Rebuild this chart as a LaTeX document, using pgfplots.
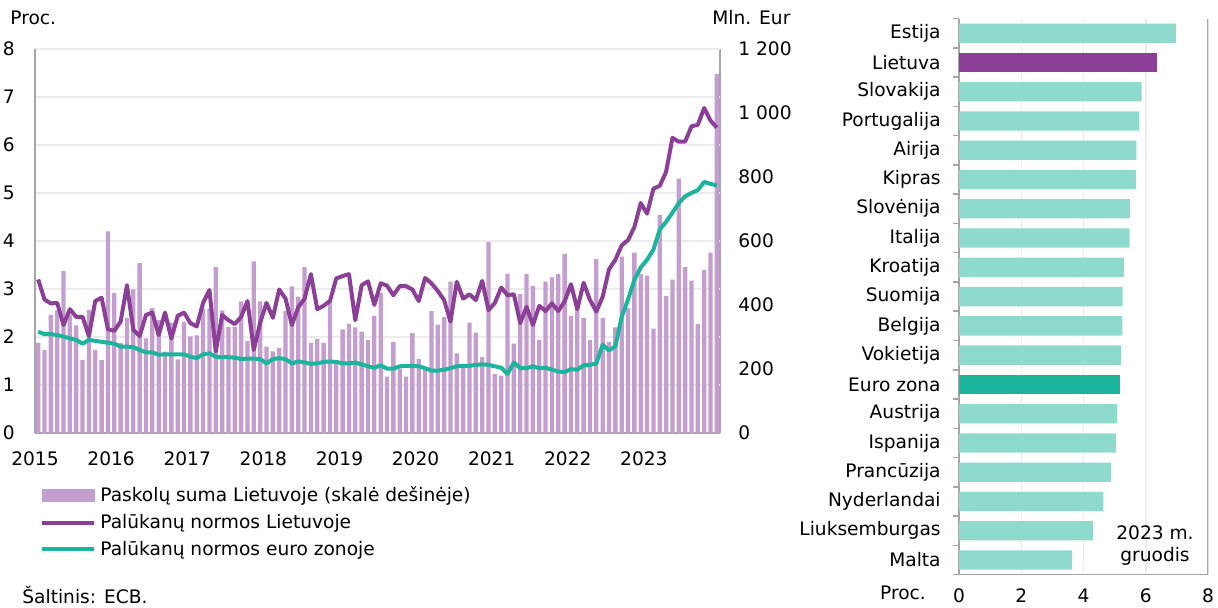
\documentclass[border=0pt]{standalone}
\usepackage{fontspec}
\setmainfont{DejaVu Sans}
\usepackage{pgfplots}
\usepackage{pgfplotstable}
\pgfplotsset{compat=1.18}
\definecolor{barpurple}{RGB}{196,158,206}
\definecolor{ltpurple}{RGB}{139,63,150}
\definecolor{ezteal}{RGB}{27,180,156}
\definecolor{lightteal}{RGB}{142,219,206}
\definecolor{axisgray}{RGB}{166,166,166}
\definecolor{gridgray}{RGB}{236,236,236}
\pgfplotsset{barlegend/.style={legend image code/.code={\fill[barpurple] (0pt,-3pt) rectangle (26pt,3pt);}}}

\pgfplotstableread{
i bars lt ez
0 282 3.20 2.11
1 260 2.78 2.06
2 369 2.70 2.06
3 383 2.71 2.04
4 507 2.25 2.01
5 368 2.58 1.97
6 336 2.42 1.94
7 228 2.42 1.86
8 384 2.02 1.94
9 260 2.75 1.92
10 228 2.82 1.90
11 630 2.16 1.88
12 438 2.13 1.86
13 282 2.32 1.80
14 360 3.08 1.80
15 449 2.15 1.79
16 531 2.02 1.73
17 296 2.46 1.68
18 390 2.51 1.68
19 353 2.04 1.63
20 254 2.51 1.64
21 345 1.97 1.64
22 230 2.44 1.64
23 347 2.51 1.64
24 302 2.29 1.59
25 305 2.22 1.56
26 389 2.71 1.64
27 389 2.98 1.66
28 519 1.70 1.59
29 383 2.46 1.58
30 332 2.35 1.58
31 332 2.27 1.57
32 411 2.42 1.54
33 288 2.75 1.55
34 536 1.73 1.55
35 411 2.30 1.54
36 270 2.71 1.45
37 255 2.40 1.54
38 266 2.99 1.56
39 381 2.80 1.54
40 458 2.25 1.45
41 426 2.62 1.49
42 518 2.80 1.47
43 282 3.31 1.44
44 294 2.58 1.45
45 282 2.65 1.48
46 411 2.75 1.49
47 228 3.22 1.48
48 324 3.27 1.45
49 341 3.31 1.45
50 330 2.35 1.47
51 317 3.08 1.43
52 291 3.16 1.39
53 366 2.67 1.36
54 438 3.12 1.41
55 176 3.07 1.34
56 284 2.87 1.34
57 201 3.06 1.39
58 176 3.06 1.40
59 312 2.99 1.40
60 231 2.75 1.39
61 200 3.23 1.35
62 381 3.12 1.30
63 339 2.96 1.30
64 362 2.77 1.32
65 473 2.32 1.35
66 249 3.15 1.39
67 207 2.80 1.40
68 345 2.89 1.40
69 314 2.77 1.42
70 237 3.17 1.43
71 597 2.56 1.42
72 185 2.71 1.39
73 179 3.03 1.36
74 497 2.87 1.23
75 279 2.89 1.47
76 434 2.29 1.35
77 497 2.63 1.35
78 459 2.25 1.39
79 291 2.65 1.35
80 473 2.54 1.36
81 486 2.70 1.32
82 497 2.54 1.28
83 560 2.74 1.27
84 366 3.10 1.33
85 390 2.58 1.32
86 359 3.13 1.41
87 291 2.77 1.42
88 543 2.53 1.45
89 360 2.84 1.84
90 285 3.41 1.72
91 330 3.61 1.81
92 551 3.91 2.42
93 390 4.02 2.78
94 564 4.29 3.19
95 497 4.79 3.45
96 492 4.57 3.61
97 326 5.09 3.82
98 681 5.15 4.24
99 428 5.44 4.40
100 479 6.15 4.59
101 795 6.07 4.79
102 518 6.07 4.93
103 476 6.39 5.00
104 341 6.42 5.06
105 510 6.77 5.23
106 564 6.51 5.19
107 1122 6.36 5.16
}\datatable

\begin{document}
\fontsize{9.3}{11}\selectfont
\begin{tikzpicture}[font=\fontsize{9.3}{11}\selectfont]
\useasboundingbox (0,0) rectangle (609pt,303.5pt);

% bars, right scale
\begin{axis}[scale only axis, width=342.5pt, height=192pt, at={(17.5pt,87pt)}, anchor=south west,
  xmin=-0.5, xmax=107.5, ymin=0, ymax=1200,
  axis x line*=bottom, axis y line*=right,
  axis line style={draw=axisgray, line width=0.75pt, -},
  xtick={-0.5,11.5,23.5,35.5,47.5,59.5,71.5,83.5,95.5},
  xticklabels={2015,2016,2017,2018,2019,2020,2021,2022,2023},
  ytick={0,200,400,600,800,1000,1200},
  yticklabels={0,200,400,600,800,1 000,1 200},
  major tick length=0pt,
  xticklabel style={inner sep=0pt, anchor=north, yshift=-9pt},
  yticklabel style={inner sep=0pt, anchor=west, xshift=9pt},
  extra y ticks={150,300,450,600,750,900,1050,1200}, extra y tick labels={},
  extra y tick style={grid=major, major grid style={draw=gridgray, line width=0.75pt}},
  ybar, bar width=0.68,
]
\addplot[fill=barpurple, draw=none] table[x=i, y=bars] {\datatable};
\end{axis}

% lines, left scale
\begin{axis}[scale only axis, width=342.5pt, height=192pt, at={(17.5pt,87pt)}, anchor=south west,
  xmin=-0.5, xmax=107.5, ymin=0, ymax=8,
  axis x line=none, axis y line*=left,
  axis line style={draw=axisgray, line width=0.75pt, -},
  ytick={0,1,2,3,4,5,6,7,8}, yticklabels={0,1,2,3,4,5,6,7,8},
  major tick length=0pt,
  yticklabel style={inner sep=0pt, anchor=east, xshift=-10pt},
  legend image code/.code={\draw[#1] (0pt,0pt) -- (26pt,0pt);},
  legend cell align=left,
  legend style={at={(axis description cs:0,0)}, anchor=north west, xshift=2.5pt, yshift=-25pt,
    draw=none, fill=none, inner sep=0pt, row sep=2pt,
    nodes={inner xsep=2pt, inner ysep=1.5pt}},
]
\addlegendimage{barlegend}
\addlegendentry{Paskolų suma Lietuvoje (skalė dešinėje)}
\addplot[ltpurple, line width=2pt, line join=round] table[x=i, y=lt] {\datatable};
\addlegendentry{Palūkanų normos Lietuvoje}
\addplot[ezteal, line width=2pt, line join=round] table[x=i, y=ez] {\datatable};
\addlegendentry{Palūkanų normos euro zonoje}
\end{axis}

% right panel
\begin{axis}[scale only axis, width=124.5pt, height=278pt, at={(479.5pt,16.2pt)}, anchor=south west,
  xmin=0, xmax=8, ymin=-0.5, ymax=18.5, y dir=reverse,
  axis x line*=bottom, axis y line*=left,
  axis line style={draw=axisgray, line width=0.75pt, -},
  xtick={0,2,4,6,8}, xticklabels={0,2,4,6,8},
  xmajorgrids, major grid style={draw=gridgray, line width=0.75pt},
  ytick={0,1,2,3,4,5,6,7,8,9,10,11,12,13,14,15,16,17,18},
  yticklabels={Estija,Lietuva,Slovakija,Portugalija,Airija,Kipras,Slovėnija,Italija,Kroatija,Suomija,Belgija,Vokietija,Euro zona,Austrija,Ispanija,Prancūzija,Nyderlandai,Liuksemburgas,Malta},
  major tick length=0pt,
  extra y ticks={-0.5,0.5,1.5,2.5,3.5,4.5,5.5,6.5,7.5,8.5,9.5,10.5,11.5,12.5,13.5,14.5,15.5,16.5,17.5,18.5},
  extra y tick labels={},
  extra y tick style={major tick length=3pt, tick align=outside, tick style={draw=axisgray, line width=0.75pt}},
  xticklabel style={inner sep=0pt, anchor=north, yshift=-7pt},
  yticklabel style={inner sep=0pt, anchor=east, xshift=-9pt},
  xbar, bar width=0.66,
]
\addplot[fill=lightteal, draw=none, bar shift=0pt] coordinates {
(6.97,0) (5.87,2) (5.79,3) (5.70,4) (5.68,5) (5.49,6) (5.48,7) (5.30,8) (5.26,9) (5.25,10) (5.20,11) (5.08,13) (5.04,14) (4.88,15) (4.64,16) (4.30,17) (3.63,18)};
\addplot[fill=ltpurple, draw=none, bar shift=0pt] coordinates {(6.36,1)};
\addplot[fill=ezteal, draw=none, bar shift=0pt] coordinates {(5.17,12)};
\draw[axisgray, line width=0.75pt] (rel axis cs:1,0) -- (rel axis cs:1,1);
\end{axis}

\node[anchor=west, inner sep=0pt] at (5pt,294.5pt) {Proc.};
\node[anchor=west, inner sep=0pt] at (356pt,294.5pt) {Mln. Eur};
\node[anchor=west, inner sep=0pt] at (11pt,6pt) {Šaltinis: ECB.};
\node[inner sep=0pt] at (451.5pt,7pt) {Proc.};
\node[align=center, inner sep=0pt] at (577.5pt,30.5pt) {2023 m.\\gruodis};
\end{tikzpicture}
\end{document}
